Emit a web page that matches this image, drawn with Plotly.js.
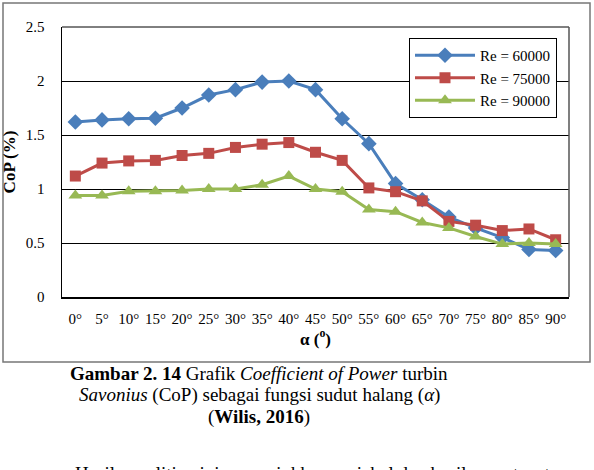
<!DOCTYPE html>
<html>
<head>
<meta charset="utf-8">
<script src="https://cdn.plot.ly/plotly-3.0.1.min.js"></script>
<style>
html,body{margin:0;padding:0;background:#fff;}
#chart{width:594px;height:470px;}
</style>
</head>
<body>
<div id="chart"></div>
<script>
// Data
const angles = ["0°","5°","10°","15°","20°","25°","30°","35°","40°","45°","50°","55°","60°","65°","70°","75°","80°","85°","90°"];
const re60000 = [1.62,1.64,1.65,1.655,1.75,1.87,1.92,1.99,2.00,1.92,1.65,1.42,1.05,0.90,0.74,0.64,0.55,0.44,0.43];
const re75000 = [1.12,1.24,1.26,1.265,1.31,1.33,1.385,1.415,1.43,1.34,1.265,1.01,0.975,0.89,0.70,0.665,0.615,0.63,0.53];
const re90000 = [0.94,0.94,0.98,0.98,0.985,1.00,1.00,1.04,1.12,1.00,0.975,0.81,0.79,0.69,0.64,0.56,0.49,0.50,0.49];
const seriesNames = ["Re = 60000","Re = 75000","Re = 90000"];
const yTitle = "CoP (%)";
const xTitle = "α (<sup>o</sup>)";
const captionLines = [
  "<b>Gambar 2. 14</b> Grafik <i>Coefficient of Power</i> turbin",
  "<i>Savonius</i> (CoP) sebagai fungsi sudut halang (<i>α</i>)",
  "(<b>Wilis, 2016</b>)"
];
const bodyText = "Hasil penelitian ini menunjukkan variabel dan hasil yang tepat";

const FONT = "Liberation Serif, Times New Roman, serif";
const colors = ["#4A7EBB","#BE4B48","#98B954"];
const symbols = ["diamond","square","triangle-up"];
const sizes = [12,11,12];
const vals = [re60000, re75000, re90000];

const traces = vals.map((v,i)=>({
  type:"scatter", mode:"lines+markers",
  x: angles, y: v, name: seriesNames[i],
  line:{color:colors[i], width:3},
  marker:{symbol:symbols[i], size:sizes[i], color:colors[i]}
}));

// pixel -> paper helpers (plot area 62..569 x, 27..297 y)
const L=62, R=569, T=27, B=297;
const px = x => (x-L)/(R-L);
const py = y => (B-y)/(B-T);

const annotations = captionLines.map((t,i)=>({
  xref:"paper", yref:"paper", x:px(259), y:py([373,395,417][i]),
  xanchor:"center", yanchor:"middle", showarrow:false, text:t,
  font:{family:FONT, size:19, color:"#000"}
}));
annotations.push({
  xref:"paper", yref:"paper", x:px(73), y:py(461),
  xanchor:"left", yanchor:"top", showarrow:false, text:bodyText,
  font:{family:FONT, size:19, color:"#000"}
});

const layout = {
  width:594, height:470,
  margin:{l:L, r:594-R, t:T, b:470-B},
  paper_bgcolor:"#fff", plot_bgcolor:"#fff",
  font:{family:FONT, size:14, color:"#000"},
  showlegend:true,
  legend:{
    x:px(557), y:py(38), xanchor:"right", yanchor:"top",
    bgcolor:"#fff", bordercolor:"#000", borderwidth:1,
    font:{family:FONT, size:15, color:"#000"},
    tracegroupgap:0, itemwidth:60
  },
  xaxis:{
    type:"category", range:[-0.5,18.5],
    showgrid:false, zeroline:false,
    showline:true, linecolor:"#000", linewidth:1.5,
    ticks:"", tickangle:0, ticklabelstandoff:7,
    tickfont:{family:FONT, size:15, color:"#000"},
    title:{text:xTitle, font:{family:FONT, size:17, color:"#000", weight:"bold"}, standoff:6}
  },
  yaxis:{
    range:[0,2.5], dtick:0.5, tick0:0,
    showgrid:true, gridcolor:"#000", gridwidth:1,
    zeroline:false, showline:true, linecolor:"#000", linewidth:1.5,
    ticks:"", ticklabelstandoff:13,
    tickfont:{family:FONT, size:15, color:"#000"},
    title:{text:yTitle, font:{family:FONT, size:17, color:"#000", weight:"bold"}, standoff:8}
  },
  shapes:[
    {type:"rect", xref:"paper", yref:"paper", x0:px(3), x1:px(590), y0:py(362), y1:py(3),
     line:{color:"#777", width:1.5}, fillcolor:"rgba(0,0,0,0)", layer:"below"},
    {type:"line", xref:"paper", yref:"paper", x0:0, x1:1, y0:1, y1:1, line:{color:"#000", width:1}},
    {type:"line", xref:"paper", yref:"paper", x0:1, x1:1, y0:0, y1:1, line:{color:"#555", width:1.5}}
  ],
  annotations: annotations
};

Plotly.newPlot("chart", traces, layout, {staticPlot:true, displayModeBar:false});
</script>
</body>
</html>
